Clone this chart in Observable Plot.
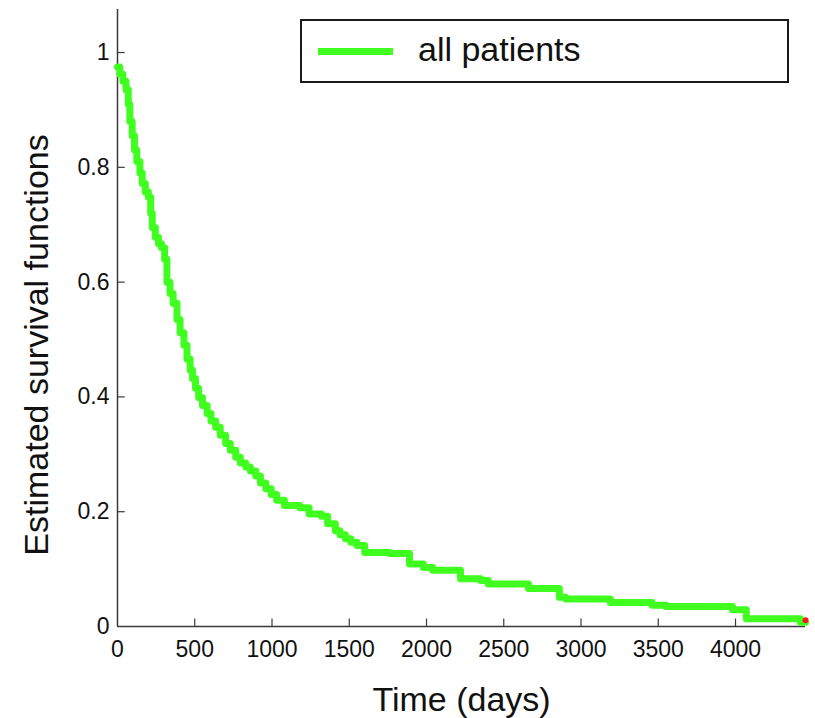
<!DOCTYPE html>
<html><head><meta charset="utf-8">
<script src="https://cdn.jsdelivr.net/npm/d3@7"></script>
<script src="https://cdn.jsdelivr.net/npm/@observablehq/plot@0.6"></script>
<style>
body{margin:0;background:#fff;}
#wrap{position:relative;width:815px;height:718px;font-family:"Liberation Sans",Arial,sans-serif;}
#legend{position:absolute;left:300px;top:19px;width:489px;height:64px;border:2px solid #1a1a1a;box-sizing:border-box;background:#fff;}
#sw{position:absolute;left:318px;top:48px;width:75px;height:7px;background:#40ff20;}
#lab{position:absolute;left:418px;top:32px;font-size:34px;line-height:34px;color:#111;white-space:nowrap;}
</style></head><body>
<div id="wrap"></div>
<script>
const days = [0,15,35,55,70,80,95,110,125,145,160,180,200,215,225,245,265,285,305,320,340,360,385,405,430,450,470,485,505,525,550,580,605,635,665,700,730,765,795,830,860,895,925,960,995,1030,1080,1180,1240,1320,1360,1410,1440,1475,1510,1550,1600,1760,1890,1980,2040,2220,2350,2400,2660,2860,2900,3190,3460,3550,3980,4070,4420,4453];
const survival = [0.975,0.962,0.95,0.935,0.91,0.88,0.855,0.83,0.81,0.79,0.772,0.757,0.748,0.72,0.695,0.678,0.667,0.66,0.64,0.60,0.58,0.563,0.535,0.512,0.49,0.466,0.447,0.432,0.415,0.399,0.385,0.371,0.358,0.347,0.333,0.319,0.307,0.295,0.285,0.278,0.271,0.262,0.25,0.24,0.23,0.22,0.211,0.207,0.196,0.192,0.179,0.167,0.16,0.153,0.147,0.141,0.129,0.127,0.109,0.103,0.098,0.083,0.08,0.074,0.066,0.051,0.048,0.042,0.037,0.035,0.029,0.0134,0.0075,0.0075];
const censorDays = [4453];
const censorSurv = [0.011];
const xTicks = [0,500,1000,1500,2000,2500,3000,3500,4000];
const yTicks = [0,0.2,0.4,0.6,0.8,1];
const seriesName = "all patients";
const xTitle = "Time (days)";
const yTitle = "Estimated survival functions";

const data = days.map((t,i)=>({t, s: survival[i]}));
const censor = censorDays.map((t,i)=>({t, s: censorSurv[i]}));
const axisColor = "#3a3a3a";

const chart = Plot.plot({
  width: 815, height: 718,
  marginLeft: 117, marginRight: 10, marginTop: 9, marginBottom: 92,
  style: {fontFamily: '"Liberation Sans", Arial, sans-serif', fontSize: "23px", color: "#111", background: "#fff"},
  x: {domain: [0, 4453]},
  y: {domain: [0, 1.075]},
  marks: [
    Plot.ruleX([0], {stroke: axisColor, strokeWidth: 1.5}),
    Plot.ruleY([0], {stroke: axisColor, strokeWidth: 1.5}),
    Plot.ruleX(xTicks.slice(1), {x: d=>d, y1: 0, y2: 0.013, stroke: axisColor, strokeWidth: 1.2}),
    Plot.ruleY(yTicks.slice(1), {y: d=>d, x1: 0, x2: 50, stroke: axisColor, strokeWidth: 1.2}),
    Plot.axisX(xTicks, {tickSize: 0, tickPadding: 14, label: null, tickFormat: d=>String(d)}),
    Plot.axisY(yTicks, {tickSize: 0, tickPadding: 8, label: null, tickFormat: d=>String(d)}),
    Plot.line(data, {x: "t", y: "s", curve: "step-after", stroke: "#40ff20", strokeWidth: 7}),
    Plot.dot(censor, {x: "t", y: "s", r: 3, fill: "#ff1a1a", stroke: "none"}),
    Plot.text([xTitle], {frameAnchor: "bottom", text: d=>d, dy: 74, fontSize: 34, textAnchor: "middle", lineAnchor: "middle", fill: "#111"}),
    Plot.text([yTitle], {frameAnchor: "left", text: d=>d, dx: -80, dy: 27, rotate: -90, fontSize: 34, textAnchor: "middle", lineAnchor: "middle", fill: "#111"})
  ]
});
const wrap = document.getElementById("wrap");
wrap.appendChild(chart);
const lg = document.createElement("div"); lg.id = "legend"; wrap.appendChild(lg);
const sw = document.createElement("div"); sw.id = "sw"; wrap.appendChild(sw);
const lab = document.createElement("div"); lab.id = "lab"; lab.textContent = seriesName; wrap.appendChild(lab);
chart.style.position = "absolute"; chart.style.left = "0"; chart.style.top = "0";
</script>
</body></html>
